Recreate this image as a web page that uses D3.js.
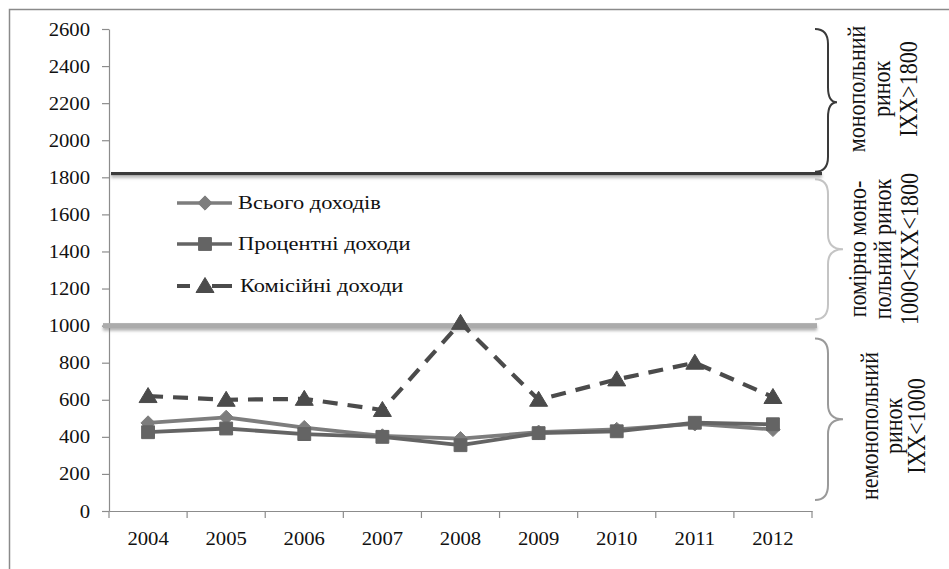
<!DOCTYPE html>
<html>
<head>
<meta charset="utf-8">
<script src="https://cdn.jsdelivr.net/npm/d3@7/dist/d3.min.js"></script>
<style>
  html, body { margin: 0; padding: 0; background: #fff; }
  svg { display: block; }
  text { font-family: "Liberation Serif", "Times New Roman", serif; fill: #111; }
</style>
</head>
<body>
<svg id="chart" width="949" height="569"></svg>
<script>
// Income concentration index by year
const years = ["2004", "2005", "2006", "2007", "2008", "2009", "2010", "2011", "2012"];
const totalIncome = [475, 505, 450, 405, 390, 425, 440, 470, 440];
const interestIncome = [425, 445, 415, 400, 355, 420, 430, 476, 468];
const feeIncome = [620, 600, 605, 545, 1015, 600, 710, 800, 615];

const seriesNames = ["Всього доходів", "Процентні доходи", "Комісійні доходи"];
const yTicks = [0, 200, 400, 600, 800, 1000, 1200, 1400, 1600, 1800, 2000, 2200, 2400, 2600];

// market-type thresholds drawn across the plot
const thresholdHigh = 1820;
const thresholdLow = 1000;

const zones = [
  { from: 1830, to: 2600, lines: ["монопольний", "ринок", "IXX>1800"], color: "#3a3a3a" },
  { from: 1035, to: 1790, lines: ["помірно моно-", "польний ринок", "1000<IXX<1800"], color: "#c4c4c4" },
  { from: 60, to: 930, lines: ["немонопольний", "ринок", "IXX<1000"], color: "#9a9a9a" }
];

const svg = d3.select("#chart");
const plot = { left: 109, right: 812, top: 29, bottom: 511 };
const FONT = "Liberation Serif";

const x = d3.scaleBand().domain(years).range([plot.left, plot.right]);
const y = d3.scaleLinear().domain([0, 2600]).range([plot.bottom, plot.top]);
const cx = d => x(d) + x.bandwidth() / 2;

const STRETCH = 1.15;

// soft shadow under the threshold bars
const defs = svg.append("defs");
const f = defs.append("filter").attr("id", "shade")
  .attr("x", "-2%").attr("y", "-100%").attr("width", "104%").attr("height", "400%");
f.append("feDropShadow").attr("dx", 0).attr("dy", 2.5).attr("stdDeviation", 1.6)
  .attr("flood-color", "#777").attr("flood-opacity", 0.6);

// outer frame
svg.append("rect").attr("x", 9.5).attr("y", 9.5).attr("width", 960).attr("height", 580)
  .attr("fill", "none").attr("stroke", "#8a8a8a").attr("stroke-width", 1.5);

// y axis
const yAxis = svg.append("g").attr("transform", `translate(${plot.left},0)`)
  .attr("font-family", FONT)
  .call(d3.axisLeft(y).tickValues(yTicks).tickFormat(d3.format("d")).tickSize(7).tickSizeOuter(0));
yAxis.selectAll("path, line").attr("stroke", "#8c8c8c").attr("stroke-width", 1.2);
yAxis.selectAll("text")
  .attr("font-size", 18).attr("fill", "#111").attr("font-family", FONT)
  .attr("x", null).attr("dy", null)
  .attr("transform", "translate(-19,6) scale(" + STRETCH + ",1)");

// x axis: labels centred in bands, tick marks on band boundaries
const xAxis = svg.append("g").attr("transform", `translate(0,${plot.bottom})`)
  .attr("font-family", FONT)
  .call(d3.axisBottom(x).tickSize(0).tickSizeOuter(0).tickPadding(0));
xAxis.select("path").attr("stroke", "#8c8c8c").attr("stroke-width", 1.2);
xAxis.selectAll("text")
  .attr("font-size", 18).attr("fill", "#111").attr("font-family", FONT)
  .attr("y", null).attr("dy", null)
  .attr("transform", "translate(0,34) scale(" + STRETCH + ",1)");
const bounds = years.map(d => x(d)).concat([plot.right]);
svg.append("g").selectAll("line").data(bounds).join("line")
  .attr("x1", d => d).attr("x2", d => d)
  .attr("y1", plot.bottom).attr("y2", plot.bottom + 7)
  .attr("stroke", "#8c8c8c").attr("stroke-width", 1.2);

// threshold bars
svg.append("rect")
  .attr("x", plot.left + 2).attr("width", 822 - plot.left - 2)
  .attr("y", y(thresholdHigh) - 1.6).attr("height", 3.2)
  .attr("fill", "#3b3b3b").attr("filter", "url(#shade)");
svg.append("rect")
  .attr("x", plot.left - 6).attr("width", 817 - plot.left + 6)
  .attr("y", y(thresholdLow) - 2.5).attr("height", 5)
  .attr("fill", "#ababab").attr("filter", "url(#shade)");

// curly braces with zone captions
function bracePath(x0, xm, xt, y0, y1, yt) {
  const r = 15;
  return `M${x0},${y0} Q${xm},${y0} ${xm},${y0 + r} L${xm},${yt - r} Q${xm},${yt} ${xt},${yt}` +
         ` Q${xm},${yt} ${xm},${yt + r} L${xm},${y1 - r} Q${xm},${y1} ${x0},${y1}`;
}
const captionX = [[865, 890, 917], [866, 891, 918], [878, 902, 925]];
const captionY = [89, 249, 426];
zones.forEach((z, i) => {
  const y0 = y(z.to), y1 = y(z.from);
  const yt = (y0 + y1) / 2 + (i === 0 ? 2 : 0);
  const xt = i === 0 ? 837 : 843;
  svg.append("path").attr("d", bracePath(815, 828, xt, y0, y1, yt))
    .attr("fill", "none").attr("stroke", z.color).attr("stroke-width", 2);
  z.lines.forEach((t, j) => {
    svg.append("text")
      .attr("transform", `translate(${captionX[i][j]},${captionY[i]}) scale(${STRETCH},1) rotate(-90)`)
      .attr("text-anchor", "middle").attr("font-size", 22).attr("font-family", FONT)
      .text(t);
  });
});

// series
const series = [
  { name: seriesNames[0], values: totalIncome, color: "#7d7d7d", dash: null, marker: "diamond", width: 3.8 },
  { name: seriesNames[1], values: interestIncome, color: "#646464", dash: null, marker: "square", width: 3.8 },
  { name: seriesNames[2], values: feeIncome, color: "#4b4b4b", dash: "15,10", marker: "triangle", width: 4.2 }
];

const line = d3.line().x((d, i) => cx(years[i])).y(d => y(d));

function markerPath(kind) {
  if (kind === "diamond") return d3.symbol(d3.symbolDiamond2, 130)();
  if (kind === "square") return d3.symbol(d3.symbolSquare2, 210)();
  return "M0,-8.5L9,6.5L-9,6.5Z";
}

series.forEach(s => {
  const g = svg.append("g");
  g.append("path").datum(s.values).attr("d", line)
    .attr("fill", "none").attr("stroke", s.color).attr("stroke-width", s.width)
    .attr("stroke-linejoin", "round")
    .attr("stroke-dasharray", s.dash);
  g.selectAll("path.m").data(s.values).join("path").attr("class", "m")
    .attr("transform", (d, i) => `translate(${cx(years[i])},${y(d)})`)
    .attr("d", markerPath(s.marker))
    .attr("fill", s.color).attr("stroke", s.color).attr("stroke-width", 1);
});

// legend
const legendY = [203, 244, 286];
series.forEach((s, i) => {
  const g = svg.append("g").attr("transform", `translate(0,${legendY[i]})`);
  if (s.dash) {
    g.append("line").attr("x1", 177).attr("x2", 190).attr("y1", 0).attr("y2", 0)
      .attr("stroke", s.color).attr("stroke-width", 4);
    g.append("line").attr("x1", 212).attr("x2", 232).attr("y1", 0).attr("y2", 0)
      .attr("stroke", s.color).attr("stroke-width", 4);
  } else {
    g.append("line").attr("x1", 177).attr("x2", 232).attr("y1", 0).attr("y2", 0)
      .attr("stroke", s.color).attr("stroke-width", 3.5);
  }
  g.append("path").attr("transform", "translate(205,0)").attr("d", markerPath(s.marker))
    .attr("fill", s.color).attr("stroke", s.color).attr("stroke-width", 1);
  g.append("text").attr("transform", `translate(${i === 2 ? 240 : 238},6) scale(${STRETCH},1)`)
    .attr("font-size", 19.5).attr("font-family", FONT).text(s.name);
});
</script>
</body>
</html>
